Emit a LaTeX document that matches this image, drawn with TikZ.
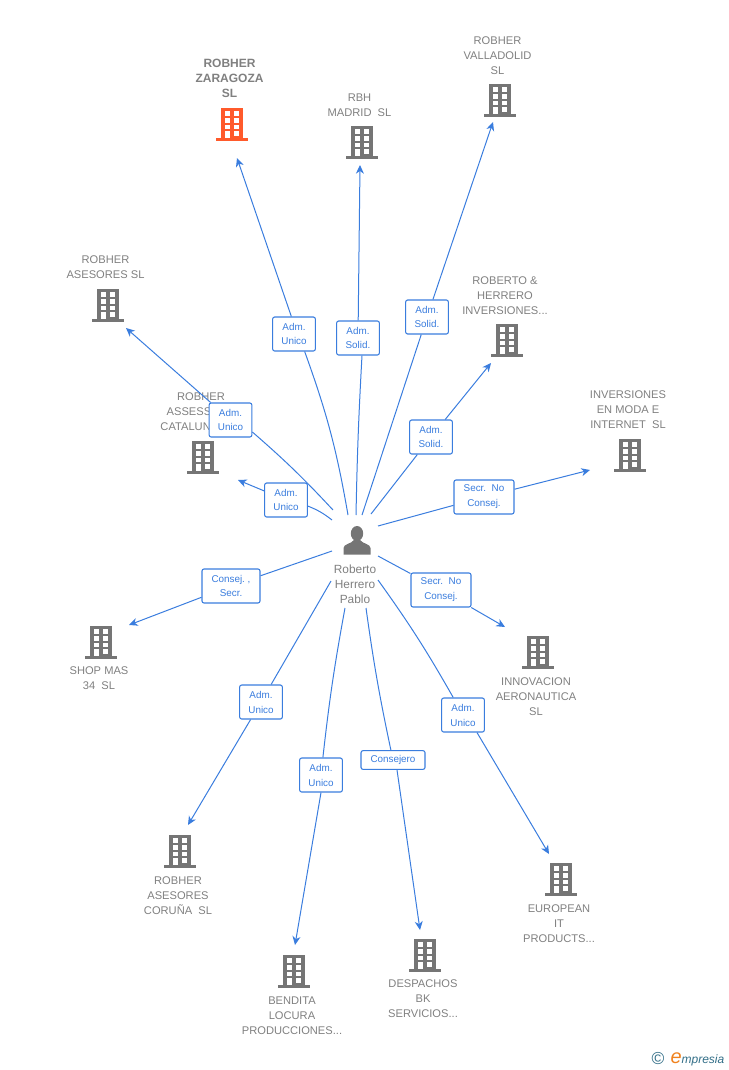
\documentclass[tikz,border=0pt]{standalone}
\usepackage{fontspec}
\setmainfont{Liberation Sans}
\definecolor{bldgray}{RGB}{117,117,117}
\definecolor{bldorange}{RGB}{255,90,43}
\definecolor{txtgray}{RGB}{128,128,128}
\definecolor{linkblue}{RGB}{58,125,222}
\definecolor{logoteal}{RGB}{50,110,135}
\definecolor{logoorange}{RGB}{240,130,30}
\usetikzlibrary{arrows.meta}
\tikzset{every picture/.style={line width=0.75pt}}
\tikzset{
  conn/.style={draw=linkblue,line width=0.75pt},
  arrowconn/.style={conn,-{Stealth[length=6.5pt,width=6pt,inset=2pt]}},
  linkbox/.style={draw=linkblue,line width=0.8pt,fill=white,rounded corners=1.5pt,text=linkblue,font=\fontsize{7.4}{11.2}\selectfont,align=center,minimum height=25.5pt,inner sep=0pt},
  firmname/.style={text=txtgray,font=\fontsize{8.35}{11.25}\selectfont,align=center,inner sep=0pt},
  pics/building/.style={code={
    \begin{scope}[yscale=-1]
    \fill[#1] (-11,-16) rectangle (11,15);
    \fill[#1] (-16,14) rectangle (16,17);
    \foreach \wy/\wh in {-12.7/4.4,-6/4.6,1/4.2}{
      \fill[white] (-6.7,\wy) rectangle ++(4.4,\wh);
      \fill[white] (2.4,\wy) rectangle ++(4.6,\wh);
    }
    \fill[white] (-6.7,7.3) rectangle (-2.3,14);
    \fill[white] (2.4,7.3) rectangle (7,12);
    \end{scope}
  }},
  pics/building/.default=bldgray,
  pics/person/.style={code={
    \begin{scope}[yscale=-1]
    \fill[bldgray] (0,-7.5) ellipse (6.2 and 7.5);
    \fill[bldgray] (-13.5,13.5) -- (-13.5,7) .. controls (-13.5,3) and (-6,3) .. (-3,-1) -- (3,-1) .. controls (6,3) and (13.5,3) .. (13.5,7) -- (13.5,13.5) -- cycle;
    \end{scope}
  }}
}

\begin{document}
\begin{tikzpicture}[x=0.75pt,y=0.75pt,yscale=-1,xscale=1]
	\useasboundingbox (0,0) rectangle (728,1070);

	%Buildings
	\pic (zaragoza) at (232,124) {building=bldorange};
	\pic (madrid) at (362,142) {building};
	\pic (valladolid) at (500,100) {building};
	\pic (asesores) at (108,305) {building};
	\pic (catalunya) at (203,457) {building};
	\pic (inversiones) at (507,340) {building};
	\pic (moda) at (630,455) {building};
	\pic (shop) at (101,642) {building};
	\pic (aeronautica) at (538,652) {building};
	\pic (coruna) at (180,851) {building};
	\pic (bendita) at (294,971) {building};
	\pic (despachos) at (425,955) {building};
	\pic (european) at (561,879) {building};

	%Firm names
	\node[firmname,font=\fontsize{9}{11.25}\selectfont\bfseries] (nzaragoza) at (229.5,78.5) {ROBHER\\ZARAGOZA\\SL};
	\node[firmname] (nmadrid) at (359.5,105) {RBH\\MADRID\ \ SL};
	\node[firmname] (nvalladolid) at (497.5,55.5) {ROBHER\\VALLADOLID\\SL};
	\node[firmname] (nasesores) at (105.5,267) {ROBHER\\ASESORES SL};
	\node[firmname] (ncatalunya) at (201,412) {ROBHER\\ASSESSORS\\CATALUNYA SL};
	\node[firmname] (ninversiones) at (505,295.5) {ROBERTO \&\\HERRERO\\INVERSIONES...};
	\node[firmname] (nmoda) at (628,409.5) {INVERSIONES\\EN MODA E\\INTERNET\ \ SL};
	\node[firmname] (nshop) at (99,678.5) {SHOP MAS\\34\ \ SL};
	\node[firmname] (naeronautica) at (536,697) {INNOVACION\\AERONAUTICA\\SL};
	\node[firmname] (ncoruna) at (178,895.5) {ROBHER\\ASESORES\\CORUÑA\ \ SL};
	\node[firmname] (nbendita) at (292,1016) {BENDITA\\LOCURA\\PRODUCCIONES...};
	\node[firmname] (ndespachos) at (423,999) {DESPACHOS\\BK\\SERVICIOS...};
	\node[firmname] (neuropean) at (559,924) {EUROPEAN\\IT\\PRODUCTS...};

	%Person
	\pic (roberto) at (357,541) {person};
	\node[firmname,font=\fontsize{8.9}{11.25}\selectfont] (nroberto) at (355,584) {Roberto\\Herrero\\Pablo};

	%Ends of the connectors
	\coordinate (szaragoza) at (348,515);
	\coordinate (smadrid) at (356,515);
	\coordinate (svalladolid) at (362,515);
	\coordinate (sasesores) at (333,510);
	\coordinate (scatalunya) at (332,520);
	\coordinate (sinversiones) at (371,514);
	\coordinate (smoda) at (378,526);
	\coordinate (sshop) at (332,551);
	\coordinate (saeronautica) at (378,556);
	\coordinate (scoruna) at (331,581);
	\coordinate (sbendita) at (345,608);
	\coordinate (sdespachos) at (366,608);
	\coordinate (seuropean) at (378,580);
	\coordinate (tzaragoza) at (237,158);
	\coordinate (tmadrid) at (360,165);
	\coordinate (tvalladolid) at (493,122);
	\coordinate (tasesores) at (126,328);
	\coordinate (tcatalunya) at (238,480);
	\coordinate (tinversiones) at (491,363);
	\coordinate (tmoda) at (590,470);
	\coordinate (tshop) at (129,625);
	\coordinate (taeronautica) at (505,627);
	\coordinate (tcoruna) at (188,825);
	\coordinate (tbendita) at (295,945);
	\coordinate (tdespachos) at (420,930);
	\coordinate (teuropean) at (549,854);

	%Boxes on the connectors
	\node[linkbox,minimum width=32pt] (lzaragoza) at (294,334) {Adm.\\Unico};
	\node[linkbox,minimum width=32pt] (lmadrid) at (358,338) {Adm.\\Solid.};
	\node[linkbox,minimum width=32pt] (lvalladolid) at (427,317) {Adm.\\Solid.};
	\node[linkbox,minimum width=32pt] (lasesores) at (230.5,420) {Adm.\\Unico};
	\node[linkbox,minimum width=32pt] (lcatalunya) at (286,500) {Adm.\\Unico};
	\node[linkbox,minimum width=32pt] (linversiones) at (431,437) {Adm.\\Solid.};
	\node[linkbox,minimum width=45pt] (lmoda) at (484,497) {Secr.\ \ No\\Consej.};
	\node[linkbox,minimum width=43.5pt] (lshop) at (231,586) {Consej.\ ,\\Secr.};
	\node[linkbox,minimum width=45pt] (laeronautica) at (441,590) {Secr.\ \ No\\Consej.};
	\node[linkbox,minimum width=32pt] (lcoruna) at (261,702) {Adm.\\Unico};
	\node[linkbox,minimum width=32pt] (lbendita) at (321,775) {Adm.\\Unico};
	\node[linkbox,minimum width=48pt,minimum height=14pt] (ldespachos) at (393,760) {Consejero};
	\node[linkbox,minimum width=32pt] (leuropean) at (463,715) {Adm.\\Unico};

	%Connectors
	\draw[conn] (szaragoza) to[bend left=5] ([xshift=8pt]lzaragoza.south);
	\draw[arrowconn] ([xshift=-2pt]lzaragoza.north) -- (tzaragoza);
	\draw[conn] (smadrid) to[bend right=1] ([xshift=3pt]lmadrid.south);
	\draw[arrowconn] (lmadrid) -- (tmadrid);
	\draw[conn] (svalladolid) -- (lvalladolid);
	\draw[arrowconn] (lvalladolid) -- (tvalladolid);
	\draw[conn] (sasesores) to[bend left=3] ([yshift=9pt]lasesores.east);
	\draw[arrowconn] (lasesores) -- (tasesores);
	\draw[conn] (scatalunya) to[bend left=8] (lcatalunya);
	\draw[arrowconn] (lcatalunya) -- (tcatalunya);
	\draw[conn] (sinversiones) -- (linversiones);
	\draw[arrowconn] (linversiones) -- (tinversiones);
	\draw[conn] (smoda) -- (lmoda);
	\draw[arrowconn] (lmoda) -- (tmoda);
	\draw[conn] (sshop) -- (lshop);
	\draw[arrowconn] (lshop) -- (tshop);
	\draw[conn] (saeronautica) -- (laeronautica);
	\draw[arrowconn] (laeronautica) -- (taeronautica);
	\draw[conn] (scoruna) -- (lcoruna);
	\draw[arrowconn] (lcoruna) -- (tcoruna);
	\draw[conn] (sbendita) to[bend left=2] (lbendita);
	\draw[arrowconn] (lbendita.south) -- (tbendita);
	\draw[conn] (sdespachos) to[bend left=2] (ldespachos);
	\draw[arrowconn] ([xshift=3pt]ldespachos.south) -- (tdespachos);
	\draw[conn] (seuropean) to[bend right=3] (leuropean);
	\draw[arrowconn] ([xshift=10.5pt]leuropean.south) -- (teuropean);

	%Logo
	\node[inner sep=0pt,text=logoteal,font=\fontsize{13}{13}\selectfont] (lcopy) at (658,1059) {©};
	\node[inner sep=0pt,anchor=base west,text=logoteal,font=\fontsize{9}{11}\selectfont\itshape] (lname) at (670,1063) {{\color{logoorange}\fontsize{15}{11}\selectfont e}mpresia};
\end{tikzpicture}
\end{document}
